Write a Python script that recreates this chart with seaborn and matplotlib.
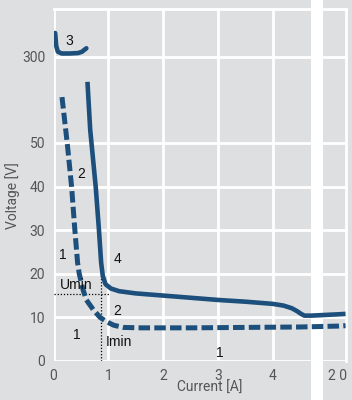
import numpy as np
import pandas as pd
import seaborn as sns
import matplotlib.pyplot as plt

# curve 4 (solid), curve 2 (dashed), curve 3 (top, solid)
solid_current = [0.62, 0.67, 0.77, 0.83, 0.87, 0.90, 0.95, 1.05, 1.2, 1.5, 2.0, 2.5, 3.0, 3.5, 4.0, 4.2, 4.35,
                 4.45, 4.52, 4.58, 4.7, 20, 24.4]
solid_voltage = [64.4, 53, 40, 30, 22.5, 19.5, 17.6, 16.6, 16.0, 15.5, 15.0, 14.5, 14.0, 13.6, 13.1, 12.7, 12.1,
                 11.4, 10.8, 10.4, 10.4, 10.7, 10.8]

dash_current = [0.155, 0.25, 0.33, 0.39, 0.44, 0.47, 0.54, 0.6, 0.73, 0.85, 0.97, 1.1, 1.27, 1.6, 2.5, 3.5, 4.5, 20, 24.4]
dash_voltage = [60.5, 50, 40, 30, 22.5, 20, 16.3, 14, 11.7, 10, 9, 8.2, 7.7, 7.6, 7.6, 7.7, 7.8, 8.0, 8.1]

top_current = [0.03, 0.05, 0.08, 0.15, 0.3, 0.45, 0.52, 0.58, 0.6]
top_voltage = [305.5, 302.5, 301.2, 300.8, 300.8, 300.9, 301.2, 301.8, 302.0]

x_ticks = [0, 1, 2, 3, 4, 20]
x_labels = ['0', '1', '2', '3', '4', '2 0']
y_ticks = [0, 10, 20, 30, 40, 50, 300]
y_labels = ['0', '10', '20', '30', '40', '50', '300']

u_min = 15.4
i_min = 0.86

bg = '#dedfe0'
blue = '#1c4f7c'
x_max = 24.4
y_max = 311


# broken axes: x compressed after 4.7 A, y jumps from ~64 V to 295 V
def fx(x):
    x = np.asarray(x, float)
    return np.where(x <= 4.7, x, 4.7 + (x - 4.7) * 0.032)


def fx_inv(d):
    d = np.asarray(d, float)
    return np.where(d <= 4.7, d, 4.7 + (d - 4.7) / 0.032)


def fy(v):
    v = np.asarray(v, float)
    return np.where(v <= 64, v, np.where(v >= 295, v - 230.3, 64 + (v - 64) * 0.7 / 231))


def fy_inv(d):
    d = np.asarray(d, float)
    return np.where(d <= 64, d, np.where(d >= 64.7, d + 230.3, 64 + (d - 64) * 231 / 0.7))


sns.set_theme(style="dark", rc={'axes.facecolor': bg, 'figure.facecolor': bg})
plt.rcParams['font.family'] = ['Liberation Sans', 'DejaVu Sans']

fig = plt.figure(figsize=(3.52, 4.0), dpi=100)
ax = fig.add_axes([53.5 / 352, 39 / 400, 292 / 352, 352 / 400])
ax.set_xscale('function', functions=(fx, fx_inv))
ax.set_yscale('function', functions=(fy, fy_inv))

# break band
ax.axvspan(4.7, 4.7 + 0.22 / 0.032, ymin=-0.12, ymax=1.04, color='white', lw=0, clip_on=False, zorder=1.5)

# white grid, drawn in data coords under the curves
for yv in y_ticks:
    ax.plot([0, x_max], [yv, yv], color='#ffffff', lw=2.0, zorder=1.8, solid_capstyle='butt')
for xv in x_ticks[:-1]:
    ax.plot([xv, xv], [0, y_max], color='#ffffff', lw=2.0, zorder=1.8, solid_capstyle='butt')

df_solid = pd.DataFrame({'current': solid_current, 'voltage': solid_voltage})
df_dash = pd.DataFrame({'current': dash_current, 'voltage': dash_voltage})
df_top = pd.DataFrame({'current': top_current, 'voltage': top_voltage})

sns.lineplot(data=df_solid, x='current', y='voltage', sort=False, estimator=None, color=blue,
             lw=3.3, ax=ax, zorder=3, solid_capstyle='butt', solid_joinstyle='round')
sns.lineplot(data=df_dash, x='current', y='voltage', sort=False, estimator=None, color=blue,
             lw=3.6, ax=ax, zorder=3, linestyle=(0, (2.3, 0.85)))
sns.lineplot(data=df_top, x='current', y='voltage', sort=False, estimator=None, color=blue,
             lw=3.3, ax=ax, zorder=3, solid_capstyle='round')

# Umin / Imin guides
ax.plot([0, 1.03], [u_min, u_min], color='black', lw=0.9, linestyle=(0, (1, 1.5)), zorder=2)
ax.plot([i_min, i_min], [0, 19.5], color='black', lw=0.9, linestyle=(0, (1, 1.5)), zorder=2)

ax.set_xlim(0, x_max)
ax.set_ylim(0, y_max)
ax.set_xticks(x_ticks)
ax.set_xticklabels(x_labels)
ax.set_yticks(y_ticks)
ax.set_yticklabels(y_labels)
ax.grid(False)
ax.tick_params(length=0, labelsize=10, labelcolor='#555555', pad=6)
for lab in ax.get_xticklabels() + ax.get_yticklabels():
    lab.set_family(['Roboto', 'DejaVu Sans'])

for s in ['left', 'bottom']:
    ax.spines[s].set_visible(False)
for s in ['top', 'right']:
    ax.spines[s].set_visible(True)
    ax.spines[s].set_color('white')
    ax.spines[s].set_linewidth(2.0)

ax.set_xlabel('')
ax.set_ylabel('')
ax.text(0.536, -0.077, 'Current [A]', transform=ax.transAxes, ha='center', va='center',
        fontsize=10, color='#555555', family=['Roboto', 'DejaVu Sans'])
ax.text(-0.142, 0.469, 'Voltage [V]', transform=ax.transAxes, ha='center', va='center',
        fontsize=10, color='#555555', rotation=90, family=['Roboto', 'DejaVu Sans'])

labels = [('3', 0.28, 303.7), ('2', 0.5, 42.9), ('1', 0.17, 24.3), ('4', 1.16, 23.4),
          ('Umin', 0.41, 17.4), ('2', 1.16, 11.5), ('1', 0.43, 6.0), ('Imin', 1.2, 4.4),
          ('1', 3.04, 1.83)]
for t, x, y in labels:
    ax.text(x, y, t, ha='center', va='center', fontsize=10, color='#111111', zorder=4)

fig.savefig('out.png', dpi=100, facecolor=bg)
